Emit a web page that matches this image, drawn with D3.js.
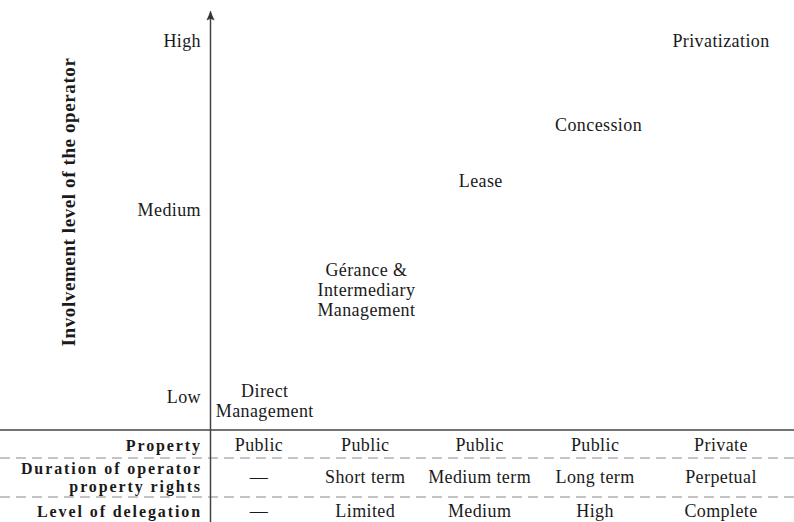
<!DOCTYPE html>
<html><head><meta charset="utf-8">
<script src="https://cdn.jsdelivr.net/npm/d3@7"></script>
<style>
html,body{margin:0;padding:0;background:#fff;}
svg{display:block;}
svg text{font-family:"Liberation Serif","Times New Roman",serif;fill:#1a1a1a;}
</style></head>
<body>
<script>
// ---- data ----
const categories = [["Direct","Management"],["Gérance &","Intermediary","Management"],["Lease"],["Concession"],["Privatization"]];
const involvement = [-0.1, 3.0, 6.07, 7.64, 10];       // vertical position (involvement level)
const delegationPos = [0.05, 0.93, 1.92, 2.94, 4];      // horizontal position along the delegation continuum
const yTickLabels = ["Low","Medium","High"];
const yTickValues = [0, 5.25, 10];
const rowLabels = [["Property"],["Duration of operator","property rights"],["Level of delegation"]];
const propertyRow = ["Public","Public","Public","Public","Private"];
const durationRow = ["—","Short term","Medium term","Long term","Perpetual"];
const delegationRow = ["—","Limited","Medium","High","Complete"];
const columnPos = [0, 0.92, 1.91, 2.91, 4];

const W = 794, H = 522;
const svg = d3.select("body").append("svg").attr("width",W).attr("height",H)
  .attr("font-family","Liberation Serif, serif");

const axisX = 210.5;
const y = d3.scaleLinear().domain([0,10]).range([397,41]);
const x = d3.scaleLinear().domain([0,4]).range([259,721]);

const fs = 18, ls = "0.4px", lh = 20;

// y axis tick labels
svg.append("g").selectAll("text").data(yTickLabels).join("text")
  .attr("x", 201).attr("y",(d,i)=>y(yTickValues[i]))
  .attr("text-anchor","end").attr("dominant-baseline","central")
  .style("font-size",fs+"px").style("letter-spacing",ls).text(d=>d);

// y axis title
svg.append("text")
  .attr("transform","translate(68,202) rotate(-90)")
  .attr("text-anchor","middle").attr("dominant-baseline","central")
  .style("font-size","19px").style("font-weight","bold").style("letter-spacing","0.6px")
  .text("Involvement level of the operator");

// category labels
const cg = svg.append("g").selectAll("text").data(categories).join("text")
  .attr("text-anchor","middle").style("font-size",fs+"px").style("letter-spacing",ls);
cg.each(function(lines,i){
  const n = lines.length;
  const cy = y(involvement[i]);
  d3.select(this).selectAll("tspan").data(lines).join("tspan")
    .attr("x", x(delegationPos[i]))
    .attr("y",(d,j)=>cy + (j-(n-1)/2)*lh)
    .attr("dominant-baseline","central")
    .text(d=>d);
});

// table
const rowBounds = [430, 458, 497];
svg.append("line").attr("x1",0).attr("x2",W).attr("y1",rowBounds[0]).attr("y2",rowBounds[0])
  .attr("stroke","#444").attr("stroke-width",1.4);
[rowBounds[1],rowBounds[2]].forEach(yy=>{
  svg.append("line").attr("x1",0).attr("x2",W).attr("y1",yy).attr("y2",yy)
    .attr("stroke","#8a8a8a").attr("stroke-width",1.2).attr("stroke-dasharray","10,6");
});
const rowCenters = [445, 477, 511];
const tableRows = [propertyRow, durationRow, delegationRow];
rowLabels.forEach((lines,r)=>{
  const n = lines.length;
  svg.append("g").selectAll("text").data(lines).join("text")
    .attr("text-anchor","end")
    .style("font-size","16px").style("font-weight","bold").style("letter-spacing","1.9px")
    .attr("x",202).attr("y",(d,j)=>rowCenters[r]+(j-(n-1)/2)*18)
    .attr("dominant-baseline","central").text(d=>d);
  svg.append("g").selectAll("text").data(tableRows[r]).join("text")
    .attr("x",(d,i)=>x(columnPos[i])).attr("y",rowCenters[r])
    .attr("text-anchor","middle").attr("dominant-baseline","central")
    .style("font-size",fs+"px").style("letter-spacing",ls).text(d=>d);
});

// vertical axis with arrow
svg.append("line").attr("x1",axisX).attr("x2",axisX).attr("y1",13).attr("y2",H)
  .attr("stroke","#444").attr("stroke-width",1.5);
svg.append("path")
  .attr("d",`M${axisX-3.6},${20} Q${axisX-1},${15} ${axisX},${11} Q${axisX+1},${15} ${axisX+3.6},${20} Q${axisX},${17} ${axisX-3.6},${20}Z`)
  .attr("fill","#333").attr("stroke","#333").attr("stroke-width",0.6);
</script>
</body></html>
